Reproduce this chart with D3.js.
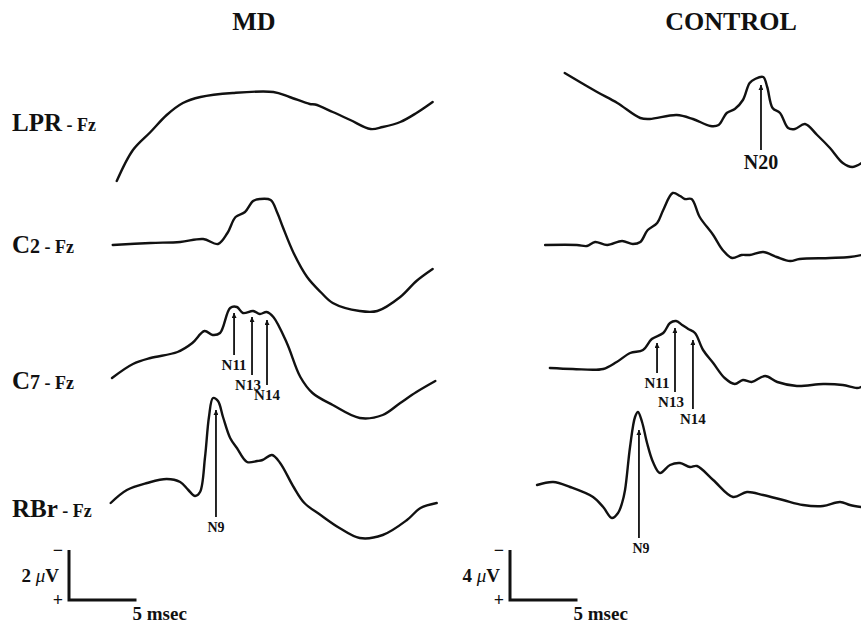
<!DOCTYPE html>
<html>
<head>
<meta charset="utf-8">
<script src="https://cdn.jsdelivr.net/npm/d3@7"></script>
<style>
  body { margin: 0; background: #fff; }
  svg { display: block; }
  text { font-family: "Liberation Serif", "Times New Roman", serif; font-weight: bold; fill: #111; }
</style>
</head>
<body>
<div id="chart"></div>
<script>
// DATA
// Groups and recording derivations
var panels = ["MD", "CONTROL"];
var rows = ["LPR", "C2", "C7", "RBr"];
var rowLabels = [["LPR", "", " - Fz"], ["C", "2", " - Fz"], ["C", "7", " - Fz"], ["RBr", "", " - Fz"]];

// Traces: [latency in msec, amplitude in uV] (negative is up)
var mdLPR = [[0.5,2.44],[1.7,1.2],[3.0,0.48],[4.2,-0.2],[5.4,-0.68],[6.7,-0.92],[9.1,-1.08],[12.1,-1.12],[13.3,-0.92],[14.8,-0.64],[15.2,-0.62],[16.5,-0.32],[17.8,0],[19.3,0.36],[20.2,0.28],[21.5,0.08],[22.7,-0.28],[23.9,-0.72]];
var mdC2 = [[0.2,0],[3.0,-0.08],[5.2,-0.12],[6.9,-0.24],[8.0,-0.04],[8.7,-0.48],[9.3,-1.12],[10.0,-1.32],[10.6,-1.76],[11.1,-1.84],[11.9,-1.8],[12.4,-1.28],[12.8,-0.72],[13.6,0.32],[14.6,1.28],[15.6,1.88],[16.5,2.32],[18.5,2.64],[19.8,2.64],[21.5,2.08],[22.7,1.44],[23.9,0.96]];
var mdC7 = [[0.15,0.32],[1.7,-0.24],[3.0,-0.48],[5.0,-0.72],[6.1,-1.08],[7.0,-1.56],[7.6,-1.4],[8.15,-1.48],[8.9,-2.48],[9.4,-2.52],[9.85,-2.28],[10.6,-2.36],[11.1,-2.24],[11.6,-2.32],[12.1,-2.12],[13.1,-1.08],[14.1,0.28],[15.0,0.92],[16.5,1.4],[18.5,1.92],[20.2,1.8],[21.5,1.32],[22.7,0.88],[24.1,0.44]];
var mdRBr = [[0.05,0.52],[1.25,0],[2.75,-0.28],[4.2,-0.44],[5.2,-0.32],[5.8,0],[6.3,0.24],[6.67,0.08],[7.04,-1.32],[7.33,-2.92],[7.63,-3.68],[8.0,-3.56],[8.37,-2.92],[8.9,-2.08],[9.4,-1.68],[10.15,-1.12],[10.9,-1.16],[11.3,-1.2],[12.0,-1.4],[12.6,-1.08],[13.6,-0.12],[14.4,0.52],[15.6,1.0],[17.0,1.52],[18.5,1.92],[20.2,1.8],[22.0,1.2],[23.0,0.72],[24.2,0.52]];

var ctLPR = [[2.2,-3.76],[4.6,-2.24],[6.1,-1.36],[7.8,-0.16],[8.5,-0.08],[10.5,-0.4],[11.7,-0.08],[13.0,0.48],[13.6,0.4],[14.2,-0.56],[14.8,-0.88],[15.4,-1.6],[15.9,-2.96],[16.3,-3.28],[16.9,-3.44],[17.2,-2.64],[17.6,-0.96],[18.15,-0.56],[18.75,0.64],[19.25,0.72],[20.0,0.32],[20.9,1.2],[21.85,2.24],[22.8,3.44],[23.5,3.76],[24.2,3.44]];
var ctC2 = [[0.75,0],[3.1,0],[3.85,0.08],[4.45,-0.24],[5.35,0],[6.45,-0.32],[7.25,-0.08],[7.8,-0.24],[8.35,-1.2],[9.05,-1.76],[9.5,-2.8],[10.2,-4.16],[10.75,-3.92],[11.1,-3.68],[11.6,-3.68],[12.2,-2.24],[13.2,-0.8],[13.9,0.4],[14.6,1.04],[15.3,0.8],[15.9,0.8],[16.9,0.56],[17.9,0.96],[18.9,1.28],[19.6,1.12],[21.85,1.04],[23.3,0.96],[24.2,0.8]];
var ctC7 = [[1.1,-0.16],[2.8,-0.08],[5.05,-0.08],[6.05,-0.64],[7.05,-1.36],[8.0,-1.6],[8.65,-2.48],[9.5,-2.96],[10.0,-3.76],[10.45,-3.92],[10.9,-3.6],[11.35,-3.28],[11.85,-2.96],[12.45,-1.6],[13.2,-0.56],[14.05,0.64],[14.8,1.12],[15.4,0.8],[16.05,0.96],[17.05,0.48],[17.95,0.96],[19.4,1.28],[21.35,1.12],[22.8,1.2],[23.85,1.44],[24.15,1.36]];
var ctRBr = [[0.15,-0.4],[1.35,-0.64],[2.6,-0.24],[4.3,0.56],[5.05,1.36],[5.7,2.24],[6.15,1.84],[6.45,1.04],[6.67,0],[7.04,-3.44],[7.41,-5.84],[7.63,-6.24],[7.93,-5.44],[8.3,-3.76],[8.74,-2.24],[9.26,-1.36],[10.0,-2.0],[10.74,-2.16],[11.48,-1.84],[12.0,-1.92],[13.2,-0.8],[14.67,0.56],[15.7,0.16],[16.9,0.4],[18.37,0.8],[19.85,1.2],[21.33,1.28],[22.6,0.96],[23.33,1.2],[24.15,1.36]];

var traces = [[mdLPR, mdC2, mdC7, mdRBr], [ctLPR, ctC2, ctC7, ctRBr]];

// Peaks: [row, label, latency msec, arrow tip uV, arrow tail uV]
var mdPeaks = [["C7","N11",9.19,-2.28,-0.6],["C7","N13",10.52,-2.12,0.2],["C7","N14",11.63,-2.0,0.6],["RBr","N9",7.85,-3.2,1.08]];
var ctPeaks = [["LPR","N20",16.74,-2.8,2.4],["C7","N11",9.04,-2.16,0.24],["C7","N13",10.37,-3.36,1.76],["C7","N14",11.7,-2.4,3.12],["RBr","N9",7.7,-4.8,3.84]];
var peaks = [mdPeaks, ctPeaks];

// Calibration: [uV, msec]
var calibration = [[2, 5], [4, 5]];

// LAYOUT
var width = 861, height = 626;
var panelLeft = [110, 535];       // x of 0 msec
var pxPerMs = 13.5;
var pxPerUv = [25, 12.5];         // MD drawn at 2 uV / 50 px, control 4 uV / 50 px
var rowBase = [120, 245, 370, 490];
var titleX = [254, 731];
var calCorner = [[69, 600], [510, 600]];

var svg = d3.select("#chart").append("svg")
    .attr("width", width)
    .attr("height", height);

svg.append("rect").attr("width", width).attr("height", height).attr("fill", "#fff");

svg.append("defs").append("marker")
    .attr("id", "head")
    .attr("viewBox", "0 0 10 10")
    .attr("refX", 10).attr("refY", 5)
    .attr("markerUnits", "userSpaceOnUse")
    .attr("markerWidth", 8).attr("markerHeight", 5)
    .attr("orient", "auto")
  .append("path")
    .attr("d", "M0,0 L10,5 L0,10 z")
    .attr("fill", "#111");

// Scales for each panel / row
function xScale(p) {
    return d3.scaleLinear().domain([0, 24]).range([panelLeft[p], panelLeft[p] + 24 * pxPerMs]);
}
function yScale(p, r) {
    return d3.scaleLinear().domain([0, 1]).range([rowBase[r], rowBase[r] + pxPerUv[p]]);
}

// Titles
panels.forEach(function(name, p) {
    svg.append("text")
        .attr("x", titleX[p]).attr("y", 30)
        .attr("text-anchor", "middle")
        .style("font-size", "26px")
        .text(name);
});

// Row labels
var labelY = [131, 253, 389, 517];
rowLabels.forEach(function(parts, r) {
    var t = svg.append("text").attr("x", 12).attr("y", labelY[r]);
    t.append("tspan").style("font-size", "25px").text(parts[0]);
    if (parts[1]) t.append("tspan").style("font-size", "20px").text(parts[1]);
    t.append("tspan").style("font-size", "18px").attr("xml:space", "preserve").text(parts[2]);
});

// Traces
panels.forEach(function(name, p) {
    var x = xScale(p);
    rows.forEach(function(row, r) {
        var y = yScale(p, r);
        var line = d3.line()
            .x(function(d) { return x(d[0]); })
            .y(function(d) { return y(d[1]); })
            .curve(d3.curveCatmullRom.alpha(0.5));
        svg.append("path")
            .datum(traces[p][r])
            .attr("d", line)
            .attr("fill", "none")
            .attr("stroke", "#111")
            .attr("stroke-width", 2.4)
            .attr("stroke-linejoin", "round")
            .attr("stroke-linecap", "round");
    });

    // Peak arrows
    peaks[p].forEach(function(d) {
        var r = rows.indexOf(d[0]);
        var y = yScale(p, r);
        var fs = d[1] === "N20" ? 20 : (d[1] === "N9" ? 14 : 15);
        var shift = d[1] === "N13" ? -4 : (d[1] === "N9" && p === 1 ? 2 : 0);
        svg.append("line")
            .attr("x1", x(d[2])).attr("x2", x(d[2]))
            .attr("y1", y(d[4])).attr("y2", y(d[3]))
            .attr("stroke", "#111")
            .attr("stroke-width", 1.8)
            .attr("marker-end", "url(#head)");
        svg.append("text")
            .attr("x", x(d[2]) + shift)
            .attr("y", y(d[4]) + fs * 0.75 + 4)
            .attr("text-anchor", "middle")
            .style("font-size", fs + "px")
            .text(d[1]);
    });

    // Calibration bars
    var c = calibration[p];
    var cx = calCorner[p][0], cy = calCorner[p][1];
    var vLen = c[0] * pxPerUv[p];
    var hLen = x(c[1]) - x(0);
    svg.append("path")
        .attr("d", "M" + cx + "," + (cy - vLen) + "V" + cy + "H" + (cx + hLen))
        .attr("fill", "none")
        .attr("stroke", "#111")
        .attr("stroke-width", 3);
    svg.append("text")
        .attr("x", cx - 6).attr("y", cy - vLen + 6)
        .attr("text-anchor", "end")
        .style("font-size", "18px")
        .text("\u2212");
    svg.append("text")
        .attr("x", cx - 6).attr("y", cy + 6)
        .attr("text-anchor", "end")
        .style("font-size", "18px")
        .text("+");
    var uv = svg.append("text")
        .attr("x", cx - 10).attr("y", cy - vLen / 2 + 7)
        .attr("text-anchor", "end")
        .style("font-size", "19px");
    uv.append("tspan").text(c[0] + " ");
    uv.append("tspan").style("font-style", "italic").style("font-weight", "normal").text("\u03bc");
    uv.append("tspan").text("V");
    svg.append("text")
        .attr("x", cx + hLen - 4).attr("y", cy + 20)
        .style("font-size", "19px")
        .text(c[1] + " msec");
});
</script>
</body>
</html>
